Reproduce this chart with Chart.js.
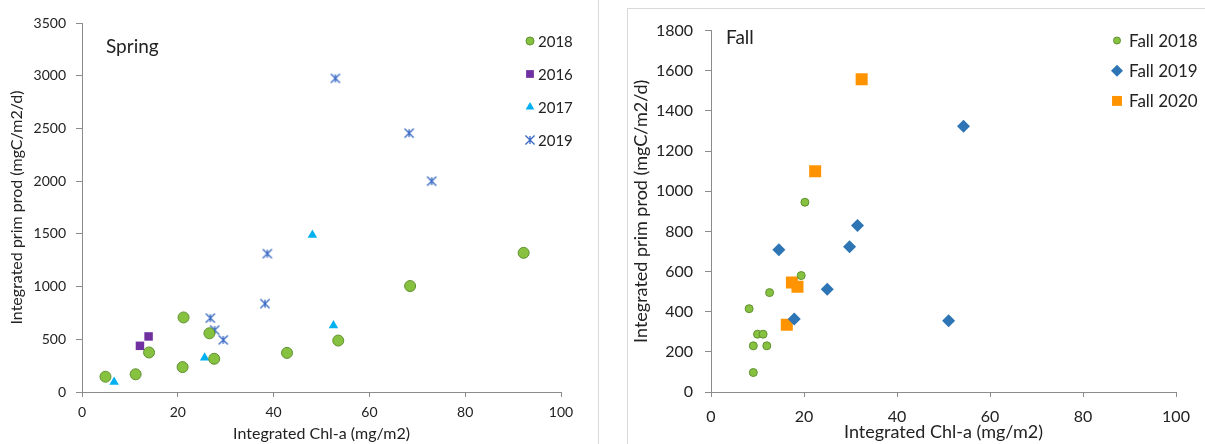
<!DOCTYPE html>
<html>
<head>
<meta charset="utf-8">
<script src="https://cdn.jsdelivr.net/npm/chart.js@4/dist/chart.umd.min.js"></script>
<style>
  html, body { margin: 0; padding: 0; background: #fff; width: 1205px; height: 444px; overflow: hidden; }
  canvas { position: absolute; }
  #spring { left: 0; top: 0; }
  #fall { left: 628px; top: 9px; }
  .rule { position: absolute; background: #d9d9d9; }
</style>
</head>
<body>
<div class="rule" style="left:598px;top:0;width:1px;height:444px"></div>
<div class="rule" style="left:627px;top:8px;width:1px;height:436px"></div>
<div class="rule" style="left:627px;top:8px;width:578px;height:1px"></div>
<canvas id="spring" width="598" height="444"></canvas>
<canvas id="fall" width="577" height="435"></canvas>
<script>
// ---- Spring panel: integrated Chl-a (x) vs integrated primary production (y)
const spring2018X = [4.9, 11.2, 14.0, 21.2, 21.0, 26.6, 27.6, 42.8, 53.5, 68.5, 92.2];
const spring2018Y = [145, 168, 375, 707, 236, 557, 315, 371, 488, 1005, 1320];
const spring2016X = [12.1, 13.9];
const spring2016Y = [438, 527];
const spring2017X = [6.7, 25.6, 48.1, 52.5];
const spring2017Y = [95, 325, 1488, 630];
const spring2019X = [52.9, 68.3, 73.0, 38.7, 38.2, 26.8, 27.7, 29.5];
const spring2019Y = [2975, 2455, 2000, 1312, 838, 701, 587, 494];

// ---- Fall panel
const fall2018X = [20.2, 19.4, 12.6, 8.2, 10.0, 11.2, 9.1, 12.0, 9.1];
const fall2018Y = [945, 580, 495, 415, 288, 288, 230, 230, 97];
const fall2019X = [54.3, 31.5, 29.8, 14.6, 25.0, 17.9, 51.1];
const fall2019Y = [1323, 829, 724, 708, 512, 363, 355];
const fall2020X = [32.4, 22.4, 17.4, 18.6, 16.3];
const fall2020Y = [1558, 1100, 545, 524, 335];

// ---- axis titles and panel captions
const xTitle = 'Integrated Chl-a (mg/m2)';
const yTitle = 'Integrated prim prod (mgC/m2/d)';
const springTitle = 'Spring';
const fallTitle = 'Fall';

const FONT = 'Lato, "Open Sans", "Liberation Sans", sans-serif';
const TXT = '#222222';
const AXIS = '#8c8c8c';

const pts = (xs, ys) => xs.map((x, i) => ({ x, y: ys[i] }));
const plain = v => String(v);

// asterisk-like marker: an X crossed by a vertical stroke
function starMarker(size, color) {
  const c = document.createElement('canvas');
  c.width = size; c.height = size;
  const g = c.getContext('2d');
  g.strokeStyle = color; g.lineWidth = 1.3;
  const m = size / 2, a = size * 0.38;
  g.beginPath();
  g.moveTo(m - a, m - a); g.lineTo(m + a, m + a);
  g.moveTo(m + a, m - a); g.lineTo(m - a, m + a);
  g.moveTo(m, m - a * 0.85); g.lineTo(m, m + a * 0.85);
  g.stroke();
  return c;
}

// in-plot legend and panel caption
const panelDecor = {
  id: 'panelDecor',
  afterDraw(chart, args, o) {
    const ctx = chart.ctx;
    ctx.save();
    ctx.fillStyle = TXT;
    ctx.textBaseline = 'alphabetic';
    ctx.textAlign = 'left';
    ctx.font = o.captionSize + 'px ' + FONT;
    ctx.fillText(o.caption, o.captionX, o.captionY);
    ctx.font = o.legendSize + 'px ' + FONT;
    chart.data.datasets.forEach((ds, i) => {
      const y = o.legendY + i * o.legendDy;
      ctx.fillStyle = ds.backgroundColor;
      ctx.strokeStyle = ds.borderColor;
      ctx.lineWidth = ds.borderWidth || 0;
      Chart.helpers.drawPoint(ctx, {
        pointStyle: ds.legendStyle || ds.pointStyle,
        radius: o.legendRadius[i],
        borderWidth: ds.borderWidth || 0,
        rotation: 0
      }, o.markerX, y);
      ctx.fillStyle = TXT;
      ctx.fillText(ds.label, o.textX, y + o.textShift);
    });
    ctx.restore();
  }
};

function xAxis(tickSize, titleSize, height, pad) {
  return {
    type: 'linear', min: 0, max: 100,
    ticks: { stepSize: 20, color: TXT, font: { family: FONT, size: tickSize }, padding: pad, callback: plain },
    grid: { drawOnChartArea: false, drawTicks: true, tickLength: 5, tickColor: AXIS, color: AXIS },
    border: { display: true, color: AXIS, width: 1 },
    title: { display: true, text: xTitle, color: TXT, font: { family: FONT, size: titleSize }, padding: { top: 0, bottom: 1 } },
    afterFit(s) { s.height = height; }
  };
}
function yAxis(max, step, tickSize, titleSize, width, pad, titlePad) {
  return {
    type: 'linear', min: 0, max: max,
    ticks: { stepSize: step, color: TXT, font: { family: FONT, size: tickSize }, padding: pad, callback: plain },
    grid: { drawOnChartArea: false, drawTicks: true, tickLength: 6, tickColor: AXIS, color: AXIS },
    border: { display: true, color: AXIS, width: 1 },
    title: { display: true, text: yTitle, color: TXT, font: { family: FONT, size: titleSize }, padding: { top: titlePad, bottom: 0 } },
    afterFit(s) { s.width = width; }
  };
}

const common = {
  responsive: false,
  animation: false,
  events: [],
  plugins: { legend: { display: false }, tooltip: { enabled: false } }
};

new Chart(document.getElementById('spring'), {
  type: 'scatter',
  data: {
    datasets: [
      { label: '2018', data: pts(spring2018X, spring2018Y), pointStyle: 'circle', pointRadius: 5.5,
        backgroundColor: '#86c13f', borderColor: '#5f9130', borderWidth: 1 },
      { label: '2016', data: pts(spring2016X, spring2016Y), pointStyle: 'rect', pointRadius: 6,
        backgroundColor: '#7030a0', borderColor: '#7030a0', borderWidth: 0 },
      { label: '2017', data: pts(spring2017X, spring2017Y), pointStyle: 'triangle', pointRadius: 5.5,
        backgroundColor: '#00b0f0', borderColor: '#00b0f0', borderWidth: 0 },
      { label: '2019', data: pts(spring2019X, spring2019Y), pointStyle: starMarker(12, '#3a6ac4'),
        legendStyle: starMarker(12, '#3a6ac4'),
        backgroundColor: '#3a6ac4', borderColor: '#3a6ac4', borderWidth: 0 }
    ]
  },
  options: Object.assign({}, common, {
    layout: { padding: { left: 0, top: 23, right: 37, bottom: 0 } },
    scales: {
      x: xAxis(14, 16, 52, 7),
      y: yAxis(3500, 500, 14, 16, 82, 10, 7)
    },
    plugins: Object.assign({}, common.plugins, {
      panelDecor: {
        caption: springTitle, captionX: 106, captionY: 53, captionSize: 19,
        legendSize: 15, markerX: 530, textX: 538, legendY: 41, legendDy: 33, textShift: 5.5,
        legendRadius: [4, 5.5, 5, 0]
      }
    })
  }),
  plugins: [panelDecor]
});

new Chart(document.getElementById('fall'), {
  type: 'scatter',
  data: {
    datasets: [
      { label: 'Fall 2018', data: pts(fall2018X, fall2018Y), pointStyle: 'circle', pointRadius: 4,
        backgroundColor: '#86c13f', borderColor: '#5f9130', borderWidth: 1 },
      { label: 'Fall 2019', data: pts(fall2019X, fall2019Y), pointStyle: 'rectRot', pointRadius: 6.5,
        backgroundColor: '#2e75b6', borderColor: '#2e75b6', borderWidth: 0 },
      { label: 'Fall 2020', data: pts(fall2020X, fall2020Y), pointStyle: 'rect', pointRadius: 8.5,
        backgroundColor: '#ff9300', borderColor: '#ff9300', borderWidth: 0 }
    ]
  },
  options: Object.assign({}, common, {
    layout: { padding: { left: 0, top: 15, right: 29, bottom: 0 } },
    scales: {
      x: xAxis(16, 18, 52, 10),
      y: yAxis(1800, 200, 16, 18, 83, 12, 2)
    },
    plugins: Object.assign({}, common.plugins, {
      panelDecor: {
        caption: fallTitle, captionX: 98, captionY: 35, captionSize: 19,
        legendSize: 17, markerX: 489, textX: 501, legendY: 31.5, legendDy: 30.2, textShift: 6,
        legendRadius: [3.5, 6, 7]
      }
    })
  }),
  plugins: [panelDecor]
});
</script>
</body>
</html>
